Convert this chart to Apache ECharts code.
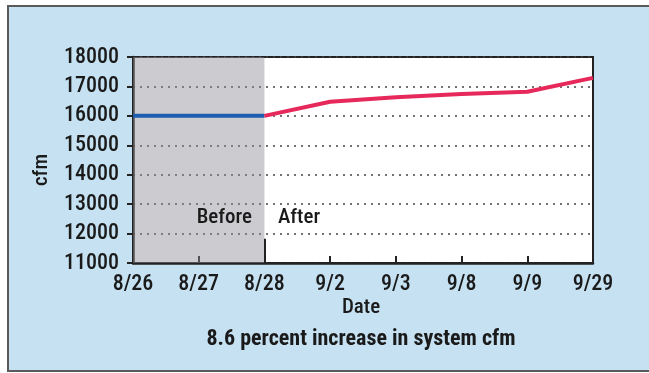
<!DOCTYPE html>
<html>
<head>
<meta charset="utf-8">
<script src="https://cdn.jsdelivr.net/npm/echarts@6/dist/echarts.min.js"></script>
<style>
html,body{margin:0;padding:0;background:#fff;}
#c{width:649px;height:373px;}
</style>
</head>
<body>
<div id="c"></div>
<script>
var categories = ['8/26','8/27','8/28','9/2','9/3','9/8','9/9','9/29'];
var beforeValues = [16000, 16000, 16000, null, null, null, null, null];
var afterValues = [null, null, 16000, 16480, 16630, 16740, 16820, 17290];
var yTicks = [11000, 12000, 13000, 14000, 15000, 16000, 17000, 18000];
var titleText = '8.6 percent increase in system cfm';
var xName = 'Date';
var yName = 'cfm';

var FONT = "'Liberation Sans Narrow', 'Roboto Condensed', 'DejaVu Sans Condensed', 'Arial Narrow', sans-serif";
var chart = echarts.init(document.getElementById('c'));
chart.setOption({
  animation: false,
  backgroundColor: '#ffffff',
  graphic: [
    { type: 'rect', z: -10, shape: { x: 8, y: 6, width: 645, height: 365 },
      style: { fill: '#c6e2f2', stroke: '#5a5a5a', lineWidth: 2 } },
    { type: 'text', x: 361, y: 339, z: 10,
      style: { text: titleText, font: "bold 22px " + FONT, fill: '#1a1a1a', textAlign: 'center', textVerticalAlign: 'middle' } },
    { type: 'text', x: 361, y: 308, z: 10,
      style: { text: xName, font: "500 21px " + FONT, fill: '#1a1a1a', textAlign: 'center', textVerticalAlign: 'middle' } },
    { type: 'text', x: 42, y: 170, rotation: Math.PI / 2, z: 10,
      style: { text: yName, font: "500 21px " + FONT, fill: '#1a1a1a', textAlign: 'center', textVerticalAlign: 'middle' } },
    { type: 'text', x: 252, y: 218, z: 10,
      style: { text: 'Before', font: "500 21px " + FONT, fill: '#1a1a1a', textAlign: 'right', textVerticalAlign: 'middle' } },
    { type: 'text', x: 278, y: 218, z: 10,
      style: { text: 'After', font: "500 21px " + FONT, fill: '#1a1a1a', textAlign: 'left', textVerticalAlign: 'middle' } }
  ],
  grid: { left: 133, right: 56, top: 57, bottom: 110, show: true, backgroundColor: '#ffffff', borderColor: '#222', borderWidth: 2 },
  xAxis: {
    type: 'category', data: categories, boundaryGap: false,
    axisLine: { lineStyle: { color: '#222', width: 2.5 } },
    axisTick: { inside: true, length: 7, lineStyle: { color: '#222', width: 2 } },
    axisLabel: { color: '#1a1a1a', fontFamily: FONT, fontSize: 22, fontWeight: 500, margin: 10 },
    splitLine: { show: false }
  },
  yAxis: {
    type: 'value', min: 11000, max: 18000, interval: 1000,
    axisLine: { show: true, lineStyle: { color: '#222', width: 2.5 } },
    axisTick: { show: true, length: 6, lineStyle: { color: '#222', width: 2 } },
    axisLabel: { color: '#1a1a1a', fontFamily: FONT, fontSize: 22, fontWeight: 500, margin: 14,
      formatter: function (v) { return yTicks.indexOf(v) >= 0 ? String(v) : ''; } },
    splitLine: { show: true, lineStyle: { color: '#444', width: 1.5, type: [2, 5] } }
  },
  series: [
    {
      type: 'line', data: beforeValues, symbol: 'none', z: 3,
      lineStyle: { color: '#1c5fb0', width: 4 },
      markArea: {
        silent: true,
        itemStyle: { color: 'rgba(140,140,150,0.45)' },
        data: [[{ xAxis: '8/26' }, { xAxis: '8/28' }]]
      },
      markLine: {
        silent: true, symbol: 'none', label: { show: false },
        lineStyle: { color: '#222', width: 2, type: 'solid' },
        data: [[{ coord: ['8/28', 11000] }, { coord: ['8/28', 11820] }]]
      }
    },
    {
      type: 'line', data: afterValues, symbol: 'none', z: 3,
      lineStyle: { color: '#e6285a', width: 4 }
    }
  ]
});
</script>
</body>
</html>
